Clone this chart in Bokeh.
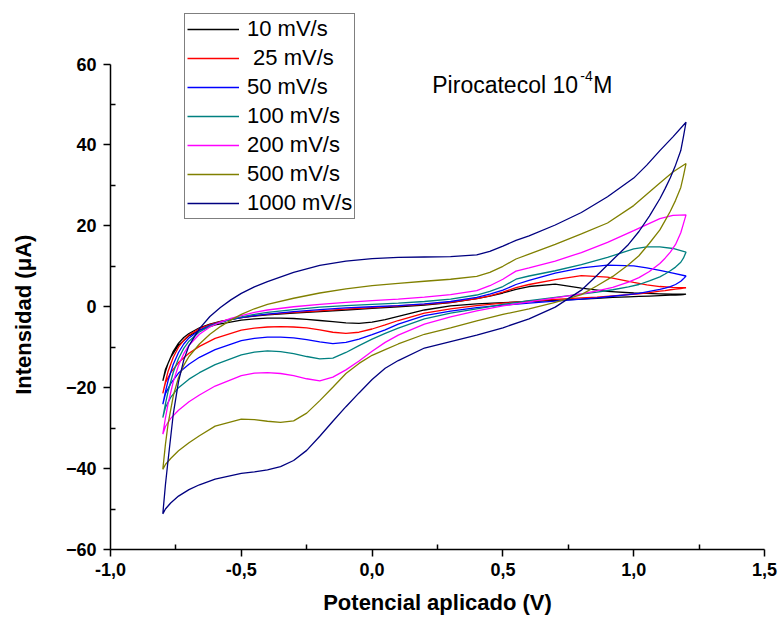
from bokeh.plotting import figure
from bokeh.models import Range1d, FixedTicker, CustomJSTickFormatter, Label, Legend, LegendItem
from bokeh.embed import file_html
from bokeh.resources import INLINE

# Potential grids (V): anodic sweep (-0.8 -> 1.2) and cathodic sweep (1.2 -> -0.8)
E_anodic = [-0.8, -0.79, -0.78, -0.76, -0.74, -0.72, -0.7, -0.66, -0.62, -0.58, -0.54, -0.5,
            -0.45, -0.4, -0.3, -0.2, -0.1, 0.0, 0.1, 0.2, 0.3, 0.4, 0.45, 0.5, 0.55, 0.6,
            0.7, 0.8, 0.9, 1.0, 1.05, 1.1, 1.15, 1.2]
E_cathodic = [1.2, 1.19, 1.18, 1.16, 1.14, 1.12, 1.1, 1.06, 1.02, 0.98, 0.92, 0.86, 0.8, 0.7,
              0.6, 0.5, 0.4, 0.3, 0.2, 0.1, 0.05, 0.0, -0.05, -0.1, -0.15, -0.2, -0.25, -0.3,
              -0.35, -0.4, -0.45, -0.5, -0.6, -0.66, -0.7, -0.74, -0.77, -0.79, -0.8]

labels = ["10 mV/s", " 25 mV/s", "50 mV/s", "100 mV/s", "200 mV/s", "500 mV/s", "1000 mV/s"]
colors = ["#000000", "#FF0000", "#0000FF", "#008080", "#FF00FF", "#808000", "#000080"]

# Currents (uA)
I10_a = [-18.3, -16.0, -14.0, -11.0, -9.0, -7.6, -6.6, -5.2, -4.3, -3.6, -3.1, -2.7, -2.3, -2.0,
         -1.6, -1.2, -0.8, -0.4, 0.0, 0.4, 1.0, 2.0, 2.6, 3.4, 4.3, 5.0, 5.6, 4.6, 3.8, 3.4, 3.3,
         3.2, 3.1, 3.1]
I10_c = [3.1, 3.0, 2.95, 2.9, 2.85, 2.8, 2.75, 2.65, 2.55, 2.45, 2.3, 2.1, 1.9, 1.6, 1.3, 1.0,
         0.7, 0.2, -0.8, -2.4, -3.2, -3.8, -4.1, -4.0, -3.7, -3.4, -3.1, -2.9, -2.8, -2.8, -3.0,
         -3.3, -4.5, -5.8, -7.2, -9.5, -12.5, -15.5, -18.3]
I25_a = [-21.4, -18.5, -16.0, -12.5, -10.0, -8.3, -7.0, -5.4, -4.4, -3.7, -3.1, -2.7, -2.2, -1.9,
         -1.4, -1.0, -0.6, -0.2, 0.2, 0.6, 1.1, 2.0, 2.7, 3.6, 4.7, 5.5, 6.7, 7.7, 7.3, 6.0, 5.4,
         5.0, 4.8, 4.7]
I25_c = [4.7, 4.6, 4.5, 4.35, 4.2, 4.0, 3.85, 3.5, 3.2, 3.0, 2.7, 2.4, 2.2, 1.8, 1.4, 0.9, 0.3,
         -0.5, -1.6, -3.4, -4.5, -5.5, -6.3, -6.6, -6.3, -5.7, -5.2, -5.0, -4.9, -5.0, -5.3, -5.8,
         -7.8, -9.8, -11.5, -13.8, -16.3, -18.8, -21.4]
I50_a = [-24.1, -21.0, -18.3, -14.2, -11.3, -9.2, -7.7, -5.8, -4.6, -3.8, -3.2, -2.7, -2.2, -1.8,
         -1.2, -0.7, -0.3, 0.0, 0.3, 0.7, 1.3, 2.3, 3.1, 4.1, 5.5, 6.5, 8.3, 9.6, 10.3, 10.1, 9.6,
         9.0, 8.3, 7.6]
I50_c = [7.6, 6.9, 6.3, 5.5, 5.0, 4.6, 4.3, 3.8, 3.3, 3.0, 2.6, 2.2, 1.9, 1.4, 0.9, 0.4, -0.2,
         -1.1, -2.2, -4.3, -5.7, -6.9, -8.0, -8.8, -9.1, -8.7, -8.1, -7.7, -7.5, -7.5, -7.8, -8.4,
         -10.6, -12.5, -14.2, -16.4, -19.0, -21.5, -24.1]
I100_a = [-27.4, -24.0, -21.0, -16.2, -12.8, -10.3, -8.5, -6.2, -4.8, -3.8, -3.1, -2.5, -1.9,
          -1.4, -0.7, -0.1, 0.3, 0.6, 0.9, 1.3, 1.9, 2.9, 3.8, 5.0, 6.8, 7.6, 8.9, 10.4, 12.2,
          14.3, 14.8, 14.8, 14.4, 13.5]
I100_c = [13.5, 12.0, 11.0, 9.8, 8.9, 8.1, 7.4, 6.4, 5.5, 4.9, 4.2, 3.6, 3.1, 2.3, 1.5, 0.6,
          -0.5, -1.6, -3.0, -5.3, -6.6, -8.0, -9.6, -11.3, -12.7, -12.9, -12.3, -11.6, -11.1,
          -10.9, -11.2, -11.9, -14.3, -16.3, -17.9, -20.0, -22.4, -24.9, -27.4]
I200_a = [-31.5, -27.5, -24.0, -18.5, -14.5, -11.6, -9.5, -6.8, -5.0, -3.8, -2.9, -2.2, -1.4,
          -0.8, 0.0, 0.6, 1.1, 1.5, 1.9, 2.4, 3.0, 4.0, 5.2, 6.8, 8.8, 9.6, 11.3, 13.4, 15.9,
          18.8, 20.3, 21.8, 22.6, 22.7]
I200_c = [22.7, 20.5, 18.3, 15.4, 13.5, 12.0, 10.7, 8.7, 7.2, 6.1, 4.8, 3.9, 3.2, 2.2, 1.2, 0.2,
          -1.0, -2.5, -4.3, -7.0, -8.8, -11.0, -13.4, -15.6, -17.4, -18.3, -17.8, -17.0, -16.5,
          -16.3, -16.4, -17.0, -19.6, -21.8, -23.5, -25.6, -27.6, -29.6, -31.5]
I500_a = [-40.2, -34.0, -29.0, -22.0, -17.5, -14.5, -12.3, -9.2, -6.8, -4.9, -3.3, -1.9, -0.5,
          0.6, 2.1, 3.4, 4.4, 5.2, 5.8, 6.3, 6.8, 7.5, 8.5, 10.0, 11.8, 13.0, 15.4, 18.0, 20.7,
          25.0, 27.8, 30.6, 33.3, 35.4]
I500_c = [35.4, 32.3, 29.5, 26.3, 23.6, 21.3, 19.0, 15.7, 12.6, 10.4, 7.5, 5.2, 3.0, 1.1, -0.5,
          -1.9, -3.5, -5.2, -6.8, -9.2, -10.6, -12.0, -14.0, -16.5, -19.9, -23.2, -26.3, -28.2,
          -28.6, -28.3, -27.9, -27.8, -29.5, -31.9, -33.6, -35.6, -37.5, -39.0, -40.2]
I1000_a = [-51.2, -44.0, -38.0, -26.5, -18.5, -13.2, -9.6, -5.4, -2.4, -0.2, 1.7, 3.3, 4.9, 6.2,
           8.5, 10.2, 11.3, 11.9, 12.2, 12.3, 12.4, 12.8, 13.7, 15.0, 16.4, 17.5, 20.2, 23.3,
           27.2, 31.8, 35.0, 38.6, 42.0, 45.6]
I1000_c = [45.6, 42.0, 38.6, 35.0, 31.9, 29.2, 26.7, 22.4, 18.6, 15.4, 11.6, 7.8, 4.1, -0.1,
           -3.0, -5.2, -7.0, -8.6, -10.2, -13.3, -15.2, -18.0, -21.3, -24.7, -28.3, -32.0, -35.5,
           -38.0, -39.5, -40.3, -40.8, -41.2, -42.6, -44.0, -45.2, -46.8, -48.5, -50.0, -51.2]

anodic = [I10_a, I25_a, I50_a, I100_a, I200_a, I500_a, I1000_a]
cathodic = [I10_c, I25_c, I50_c, I100_c, I200_c, I500_c, I1000_c]

x_ticks = [-1.0, -0.5, 0.0, 0.5, 1.0, 1.5]
x_minor = [-0.75, -0.25, 0.25, 0.75, 1.25]
y_ticks = [-60, -40, -20, 0, 20, 40, 60]
y_minor = [-50, -30, -10, 10, 30, 50]

FONT = "Liberation Sans"

# layout (pixels): the frame reaches the top of the canvas so that the legend,
# which sits above the y = 60 end of the axis, is not clipped.
FRAME_H = 549          # canvas y of the x axis (y = -60)
Y60_PX = 63.5          # canvas y of y = 60
scale = (FRAME_H - Y60_PX) / 120.0
y_top = 60 + Y60_PX / scale

p = figure(frame_width=654, frame_height=FRAME_H,
           min_border_left=110, min_border_right=15, min_border_top=0, min_border_bottom=69,
           x_range=Range1d(-1.0, 1.5), y_range=Range1d(-60, y_top),
           output_backend="svg", toolbar_location=None)
p.outline_line_color = None
p.xgrid.visible = False
p.ygrid.visible = False
p.background_fill_color = "white"
p.border_fill_color = "white"

items = []
for lab, col, ia, ic in zip(labels, colors, anodic, cathodic):
    xs = E_anodic + E_cathodic
    ys = ia + ic
    r = p.line(xs, ys, line_color=col, line_width=1.3)
    items.append(LegendItem(label=lab, renderers=[r]))

for ax in (p.xaxis[0], p.yaxis[0]):
    ax.axis_line_width = 1.5
    ax.major_tick_line_width = 1.5
    ax.minor_tick_line_width = 1.5
    ax.major_tick_out = 7
    ax.major_tick_in = 0
    ax.minor_tick_out = 0
    ax.minor_tick_in = 5
    ax.major_label_text_font = FONT
    ax.major_label_text_font_style = "bold"
    ax.major_label_text_font_size = "18px"
    ax.major_label_text_color = "black"
    ax.axis_label_text_font = FONT
    ax.axis_label_text_font_style = "bold"
    ax.axis_label_text_font_size = "22px"
    ax.axis_label_text_color = "black"

p.yaxis[0].bounds = (-60, 60)
p.xaxis[0].ticker = FixedTicker(ticks=x_ticks, minor_ticks=x_minor)
p.yaxis[0].ticker = FixedTicker(ticks=y_ticks, minor_ticks=y_minor)
p.xaxis[0].formatter = CustomJSTickFormatter(code="return tick.toFixed(1).replace('.', ',');")
p.xaxis[0].axis_label = "Potencial aplicado (V)"
# the label is centred on the (taller) frame; trailing no-break spaces move the
# visible words down to the middle of the -60..60 axis, as in the original
p.yaxis[0].axis_label = "Intensidad (\u03bcA)" + "\u00a0" * 13
p.xaxis[0].major_label_standoff = 6
p.yaxis[0].major_label_standoff = 7
p.xaxis[0].axis_label_standoff = 11
p.yaxis[0].axis_label_standoff = 27

leg = Legend(items=items, location=(74, 330))
leg.border_line_color = "black"
leg.border_line_width = 1
leg.background_fill_color = "white"
leg.background_fill_alpha = 1.0
leg.label_text_font = FONT
leg.label_text_font_size = "22px"
leg.label_text_color = "black"
leg.padding = 2
leg.spacing = 3
leg.label_height = 24
leg.glyph_height = 24
leg.glyph_width = 52
leg.label_standoff = 8
leg.margin = 0
p.add_layout(leg)

p.add_layout(Label(x=0.23, y=54.8, text="Pirocatecol 10", text_font=FONT,
                   text_font_size="23px", text_baseline="alphabetic", text_color="black"))
p.add_layout(Label(x=0.23, y=54.8, x_offset=148, y_offset=9, text="-4", text_font=FONT,
                   text_font_size="14px", text_baseline="alphabetic", text_color="black"))
p.add_layout(Label(x=0.23, y=54.8, x_offset=161, text="M", text_font=FONT,
                   text_font_size="23px", text_baseline="alphabetic", text_color="black"))

open("out.html", "w").write(file_html(p, INLINE))
